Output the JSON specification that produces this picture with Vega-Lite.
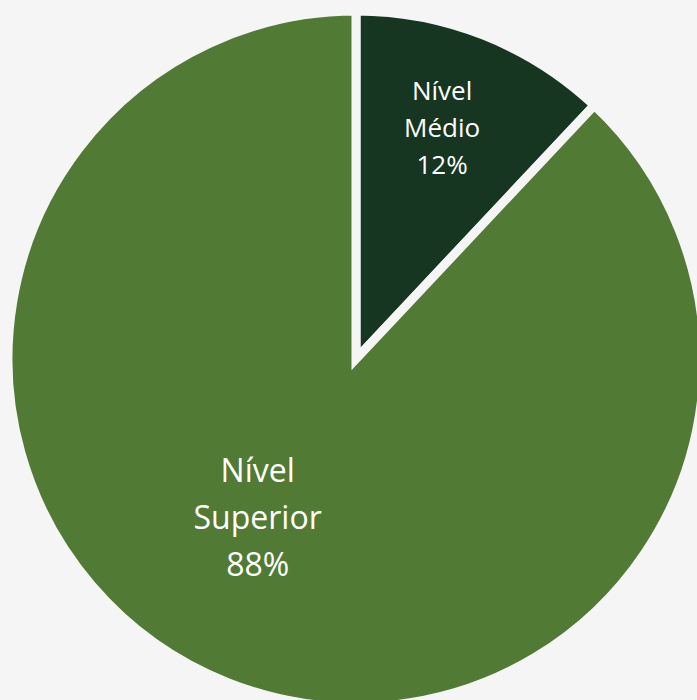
{
  "$schema": "https://vega.github.io/schema/vega-lite/v6.json",
  "width": 712,
  "height": 718,
  "autosize": "none",
  "padding": 0,
  "background": "#f5f5f5",
  "config": {"view": {"stroke": null}},
  "data": {
    "values": [
      {"categoria": "Nível Médio", "label": "Nível|Médio|12%", "valor": 12},
      {"categoria": "Nível Superior", "label": "Nível|Superior|88%", "valor": 88}
    ]
  },
  "transform": [
    {"stack": "valor", "groupby": [], "sort": [{"field": "categoria"}], "as": ["v0", "v1"]}
  ],
  "encoding": {
    "theta": {"field": "v0", "type": "quantitative", "scale": {"domain": [0, 100]}}
  },
  "layer": [
    {
      "mark": {"type": "arc", "radius": 348, "stroke": "#f5f5f5", "strokeWidth": 9, "strokeJoin": "miter"},
      "encoding": {
        "theta2": {"field": "v1"},
        "color": {
          "field": "categoria",
          "type": "nominal",
          "scale": {"domain": ["Nível Médio", "Nível Superior"], "range": ["#173622", "#517a34"]},
          "legend": null
        }
      }
    },
    {
      "transform": [{"filter": "datum.categoria == 'Nível Médio'"}],
      "mark": {"type": "text", "radius": 245.6, "thetaOffset": 0.358, "dy": -37, "font": "Open Sans", "fontSize": 26, "lineHeight": 37, "lineBreak": "|", "fill": "white", "align": "center", "baseline": "middle"},
      "encoding": {"text": {"field": "label"}}
    },
    {
      "transform": [{"filter": "datum.categoria == 'Nível Superior'"}],
      "mark": {"type": "text", "radius": 187.7, "thetaOffset": 2.939, "dy": -47, "font": "Open Sans", "fontSize": 32, "lineHeight": 47, "lineBreak": "|", "fill": "white", "align": "center", "baseline": "middle"},
      "encoding": {"text": {"field": "label"}}
    }
  ]
}
